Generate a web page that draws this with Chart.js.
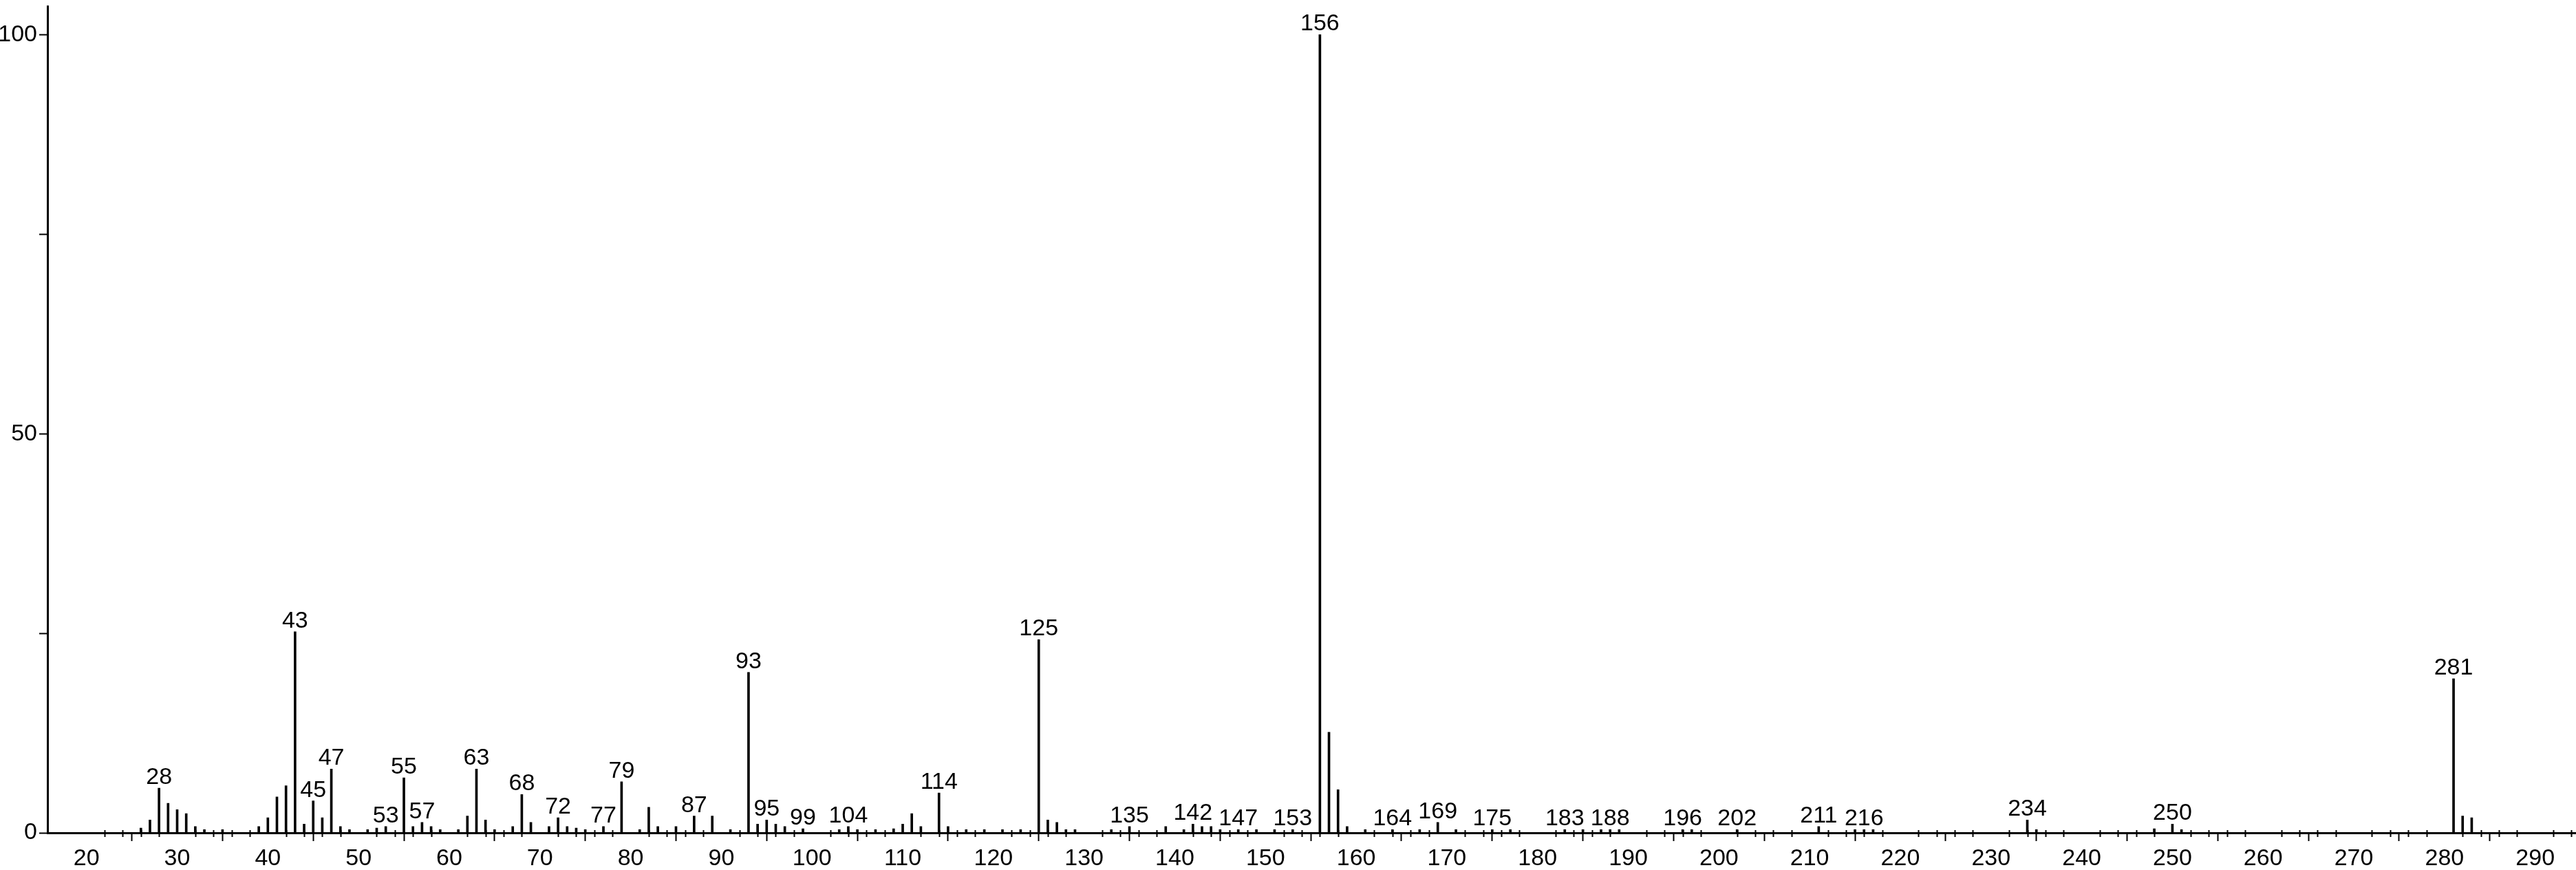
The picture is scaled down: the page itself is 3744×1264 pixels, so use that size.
<!DOCTYPE html>
<html>
<head>
<meta charset="utf-8">
<script src="https://cdn.jsdelivr.net/npm/chart.js@4/dist/chart.umd.min.js"></script>
<style>
  html, body { margin: 0; padding: 0; background: #fff; }
  canvas { display: block; }
</style>
</head>
<body>
<canvas id="espectro" width="3744" height="1264"></canvas>
<script>
// m/z e intensidade relativa (%)
const mz = [26, 27, 28, 29, 30, 31, 32, 33, 35, 39, 40, 41, 42, 43, 44, 45, 46, 47, 48, 49,
  51, 52, 53, 55, 56, 57, 58, 59, 61, 62, 63, 64, 65, 67, 68, 69, 71, 72, 73, 74,
  75, 77, 79, 81, 82, 83, 85, 87, 89, 91, 93, 94, 95, 96, 97, 99, 103, 104, 105, 107,
  109, 110, 111, 112, 114, 115, 117, 119, 121, 123, 125, 126, 127, 128, 129, 133, 135, 139, 141, 142,
  143, 144, 145, 147, 149, 151, 153, 156, 157, 158, 159, 161, 164, 167, 169, 171, 175, 177, 183, 185,
  187, 188, 189, 196, 197, 202, 211, 215, 216, 217, 234, 235, 248, 250, 251, 281, 282, 283]
const intensidade = [0.6, 1.6, 5.6, 3.7, 2.9, 2.4, 0.8, 0.4, 0.4, 0.8, 1.9, 4.5, 5.9, 25.2, 1.1, 4.0, 1.9, 8.0, 0.8, 0.4,
  0.4, 0.6, 0.8, 6.9, 0.8, 1.3, 0.8, 0.4, 0.4, 2.1, 8.0, 1.6, 0.4, 0.8, 4.8, 1.3, 0.8, 1.9, 0.8, 0.6,
  0.4, 0.8, 6.4, 0.4, 3.2, 0.8, 0.8, 2.1, 2.1, 0.4, 20.1, 1.1, 1.6, 1.1, 0.8, 0.5, 0.4, 0.8, 0.4, 0.4,
  0.5, 1.1, 2.4, 0.8, 5.0, 0.8, 0.4, 0.4, 0.4, 0.4, 24.2, 1.6, 1.3, 0.4, 0.4, 0.4, 0.8, 0.8, 0.4, 1.1,
  0.8, 0.8, 0.4, 0.4, 0.4, 0.4, 0.4, 100, 12.6, 5.4, 0.8, 0.4, 0.4, 0.4, 1.3, 0.4, 0.4, 0.4, 0.4, 0.4,
  0.4, 0.4, 0.4, 0.4, 0.4, 0.4, 0.8, 0.4, 0.4, 0.4, 1.6, 0.4, 0.5, 1.1, 0.4, 19.3, 2.1, 1.9]
// picos com rotulo
const rotulos = [28, 43, 45, 47, 53, 55, 57, 63, 68, 72, 77, 79, 87, 93, 95, 99, 104, 114, 125, 135,
  142, 147, 153, 156, 164, 169, 175, 183, 188, 196, 202, 211, 216, 234, 250, 281]
const yTicksRotulo = [0, 50, 100]

const fonte = { family: "'Liberation Sans', Arial, sans-serif", size: 34 }

let pontos = mz.map((m, i) => ({ x: m, y: intensidade[i] }))

// marcas menores do eixo x (a cada 2) e rotulos dos picos
const extras = {
    id: 'extras',
    afterDatasetsDraw(chart) {
        let ctx = chart.ctx
        let meta = chart.getDatasetMeta(0)
        ctx.save()
        ctx.fillStyle = '#000'
        ctx.font = fonte.size + 'px ' + fonte.family
        ctx.textAlign = 'center'
        ctx.textBaseline = 'alphabetic'
        meta.data.forEach((bar, i) => {
            if (rotulos.includes(mz[i])) {
                ctx.fillText(String(mz[i]), bar.x, bar.y - 6)
            }
        })
        ctx.restore()
    },
    afterDraw(chart) {
        let ctx = chart.ctx
        let x = chart.scales.x
        let base = chart.scales.y.getPixelForValue(0)
        ctx.save()
        ctx.strokeStyle = '#000'
        ctx.lineWidth = 2
        for (let v = 22; v < x.max; v += 2) {
            if (v % 10 === 0) continue
            let px = Math.round(x.getPixelForValue(v)) + 0.5
            ctx.beginPath()
            ctx.moveTo(px, base - 4)
            ctx.lineTo(px, base + 6)
            ctx.stroke()
        }
        ctx.restore()
    }
}

var ctx = document.getElementById('espectro').getContext('2d')
var grafico = new Chart(ctx, {
    type: 'bar',
    data: {
        datasets: [
            {
                data: pontos,
                backgroundColor: '#000',
                borderWidth: 0,
                barThickness: 3,
                grouped: false
            }
        ]
    },
    options: {
        responsive: false,
        devicePixelRatio: 1,
        animation: false,
        layout: { padding: { top: 4, right: 0, left: 0, bottom: 0 } },
        plugins: { legend: { display: false }, tooltip: { enabled: false } },
        scales: {
            x: {
                type: 'linear',
                offset: false,
                min: 15.7,
                max: 294.5,
                border: { display: true, color: '#000', width: 3 },
                grid: { drawOnChartArea: false, drawTicks: true, tickLength: 12, tickColor: '#000', tickWidth: 2 },
                ticks: {
                    stepSize: 10,
                    includeBounds: false,
                    autoSkip: false,
                    maxRotation: 0,
                    color: '#000',
                    font: fonte,
                    padding: 5
                },
                afterFit(scale) { scale.height = 54 }
            },
            y: {
                min: 0,
                max: 103.5,
                border: { display: true, color: '#000', width: 3 },
                grid: { drawOnChartArea: false, drawTicks: true, tickLength: 12, tickColor: '#000', tickWidth: 2 },
                ticks: {
                    stepSize: 25,
                    includeBounds: false,
                    color: '#000',
                    font: { family: fonte.family, size: fonte.size, lineHeight: 0.4 },
                    padding: 3,
                    callback: (v) => yTicksRotulo.includes(v) ? String(v) : ''
                },
                afterFit(scale) { scale.width = 69 }
            }
        }
    },
    plugins: [extras]
})
</script>
</body>
</html>
